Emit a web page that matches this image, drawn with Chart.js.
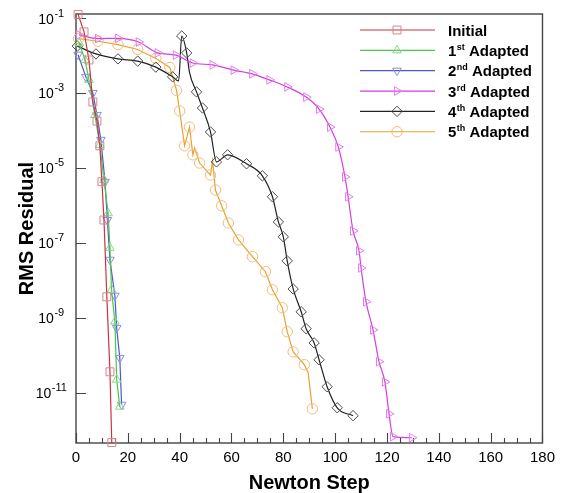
<!DOCTYPE html>
<html><head><meta charset="utf-8">
<script src="https://cdn.jsdelivr.net/npm/chart.js@4.4.1/dist/chart.umd.min.js"></script>
<style>html,body{margin:0;padding:0;background:#fff;}</style>
</head><body>
<canvas id="c" width="561" height="493"></canvas>
<script>
// ---------------- data ----------------
const seriesLabels = ['Initial', '1st Adapted', '2nd Adapted', '3rd Adapted', '4th Adapted', '5th Adapted'];

const initialSteps = [0.8, 3.1, 5, 6.5, 8.1, 9.2, 10, 10.8, 11.9, 13.1, 13.8];
const initialRMS   = [0.125, 0.0427, 0.00759, 5.75e-4, 1.78e-4, 3.89e-5, 4.27e-6, 4.07e-7, 3.63e-9, 3.63e-11, 4.68e-13];

const adapt1Steps = [1.2, 3.5, 5, 7.3, 9.2, 10.8, 12.4, 13.1, 13.7, 15, 15.7, 16.9];
const adapt1RMS   = [0.0214, 0.00759, 0.00224, 2.57e-4, 4.07e-5, 4.79e-6, 6.17e-7, 7.41e-8, 5.62e-9, 7.94e-10, 2.24e-11, 4.27e-12];

const adapt2Steps = [0.8, 3.8, 6.5, 8.1, 9.6, 11.2, 12.1, 13.1, 15, 15.7, 16.9, 17.6];
const adapt2RMS   = [0.0105, 0.00269, 0.001, 2.57e-4, 5.62e-5, 4.27e-6, 4.07e-7, 3.55e-8, 3.89e-9, 5.37e-10, 8.51e-11, 4.79e-12];

const adapt3Steps = [1.2, 8.5, 16.2, 24.2, 31.5, 38.5, 45, 52.7, 60.8, 68, 74.6, 81.5, 88.8, 93.8, 98, 101.2, 103.8, 105, 106.9, 109.2, 110, 111.9, 114.6, 116.9, 119.2, 120.8, 122.3, 129.6];
const adapt3RMS   = [0.0355, 0.0282, 0.0288, 0.0229, 0.0117, 0.0102, 0.00631, 0.00562, 0.00407, 0.00324, 0.00224, 0.00145, 7.76e-4, 3.72e-4, 1.23e-4, 3.63e-5, 5.75e-6, 1.70e-6, 2.09e-7, 6.17e-8, 2.14e-8, 2.69e-9, 4.79e-10, 6.76e-11, 1.95e-11, 2.75e-12, 6.76e-13, 6.31e-13];

const adapt4Steps = [0.5, 7.7, 16.2, 23.8, 30.8, 37.3, 39.6, 40.8, 42.7, 43.8, 46.5, 48.8, 51.9, 54.2, 58.5, 65.8, 71.9, 75.8, 78.1, 80, 81.5, 83.8, 86.9, 88.8, 91.9, 93.8, 96.9, 100.8, 106.9];
const adapt4RMS   = [0.0178, 0.011, 0.00813, 0.00708, 0.0049, 0.00269, 0.00209, 0.0331, 0.0117, 0.00355, 0.00107, 3.98e-4, 9.12e-5, 1.45e-5, 2.24e-5, 1.29e-5, 6.17e-6, 1.70e-6, 3.63e-7, 1.45e-7, 3.31e-8, 5.89e-9, 1.45e-9, 5.13e-10, 2.14e-10, 7.59e-11, 1.45e-11, 3.98e-12, 2.45e-12];
const adapt4Marked = [1,1,1,1,1,1,0,1,1,0,1,1,1,1,1,1,1,1,1,1,1,1,1,1,1,1,1,1,1];

const adapt5Steps = [1, 8.5, 16.2, 23.8, 30.8, 36.2, 38.8, 40, 41.9, 43.8, 45.1, 45.8, 47.7, 51.9, 52.7, 53.8, 56.2, 58.8, 62.7, 68.1, 73.1, 75.8, 79.6, 81.5, 83.8, 88.1, 89.6, 91.2];
const adapt5RMS   = [0.0282, 0.024, 0.0195, 0.0145, 0.00832, 0.00479, 0.00117, 3.31e-4, 3.89e-5, 1.23e-4, 2.24e-5, 3.39e-5, 1.35e-5, 6.46e-6, 1.55e-5, 2.57e-6, 9.77e-7, 3.39e-7, 1.20e-7, 4.27e-8, 1.70e-8, 5.62e-9, 1.86e-9, 4.27e-10, 1.23e-10, 5.62e-11, 3.39e-11, 3.72e-12];
const adapt5Marked = [1,1,1,1,1,1,1,1,1,1,1,0,1,1,0,1,1,1,1,1,1,1,1,1,1,1,0,1];

const xTickValues = [0, 20, 40, 60, 80, 100, 120, 140, 160, 180];
const yTickExponents = [-1, -3, -5, -7, -9, -11];

// ---------------- chart ----------------
const FONT = '"Liberation Sans", Arial, Helvetica, sans-serif';
const pts = (xs, ys) => xs.map((x, i) => ({x: x, y: ys[i]}));
const radii = (flags, r) => flags.map(f => f ? r : 0);

function ds(label, xs, ys, line, mark, style, rot, r, flags, interp) {
  return {
    label: label, data: pts(xs, ys),
    borderColor: line, borderWidth: 1.2, backgroundColor: 'rgba(0,0,0,0)',
    pointStyle: style, pointRotation: rot,
    pointRadius: flags ? radii(flags, r) : r, pointHoverRadius: r,
    pointBorderColor: mark, pointBackgroundColor: 'rgba(0,0,0,0)', pointBorderWidth: 1,
    cubicInterpolationMode: interp || 'default', tension: 0, clip: false
  };
}

const datasets = [
  ds(seriesLabels[0], initialSteps, initialRMS, '#cc3340', '#d9838a', 'rect', 0, 5.6),
  ds(seriesLabels[1], adapt1Steps, adapt1RMS, '#4cc64c', '#84da84', 'triangle', 0, 5),
  ds(seriesLabels[2], adapt2Steps, adapt2RMS, '#4f55d0', '#8a8ee0', 'triangle', 180, 5),
  ds(seriesLabels[3], adapt3Steps, adapt3RMS, '#d23ee0', '#e27cec', 'triangle', 90, 5, null, 'monotone'),
  ds(seriesLabels[4], adapt4Steps, adapt4RMS, '#222222', '#4a4a4a', 'rectRot', 0, 5.2, adapt4Marked, 'monotone'),
  ds(seriesLabels[5], adapt5Steps, adapt5RMS, '#e9a232', '#f0bd78', 'circle', 0, 5.2, adapt5Marked)
];

const framePlugin = {
  id: 'frame',
  beforeDatasetsDraw(chart) {
    const ctx = chart.ctx, a = chart.chartArea, xs = chart.scales.x, ys = chart.scales.y;
    ctx.save();
    ctx.strokeStyle = '#444';
    ctx.lineWidth = 1.4;
    ctx.strokeRect(a.left, a.top, a.right - a.left, a.bottom - a.top);
    ctx.lineWidth = 1.1;
    ctx.beginPath();
    for (let v = 0; v <= 180; v += 5) {
      const px = Math.round(xs.getPixelForValue(v)) + 0.5;
      const len = (v % 20 === 0) ? 10 : 5;
      ctx.moveTo(px, a.bottom); ctx.lineTo(px, a.bottom - len);
    }
    yTickExponents.forEach(e => {
      const py = Math.round(ys.getPixelForValue(Math.pow(10, e))) + 0.5;
      ctx.moveTo(a.left, py); ctx.lineTo(a.left + 10, py);
    });
    ctx.stroke();
    ctx.restore();
  },
  afterDraw(chart) {
    const ctx = chart.ctx, ys = chart.scales.y;
    ctx.save();
    ctx.fillStyle = '#000';
    ctx.textBaseline = 'alphabetic';
    ctx.textAlign = 'left';
    // y tick labels 10^e
    yTickExponents.forEach(e => {
      const py = ys.getPixelForValue(Math.pow(10, e));
      const sup = String(e);
      ctx.font = '14px ' + FONT; const w1 = ctx.measureText('10').width;
      ctx.font = '11px ' + FONT; const w2 = ctx.measureText(sup).width;
      const x0 = 51 - (w1 + w2) / 2;
      ctx.font = '14px ' + FONT; ctx.fillText('10', x0, py + 5.5);
      ctx.font = '11px ' + FONT; ctx.fillText(sup, x0 + w1 + 0.5, py - 1.5);
    });
    // legend
    const rowY0 = 30, rowStep = 20.35, lx1 = 360, lx2 = 435, mx = 397, tx = 448;
    chart.data.datasets.forEach((d, i) => {
      const y = rowY0 + i * rowStep;
      ctx.strokeStyle = d.borderColor; ctx.lineWidth = 1.2;
      ctx.beginPath(); ctx.moveTo(lx1, y); ctx.lineTo(lx2, y); ctx.stroke();
      ctx.strokeStyle = d.pointBorderColor; ctx.fillStyle = 'rgba(0,0,0,0)'; ctx.lineWidth = 1;
      const r = Array.isArray(d.pointRadius) ? Math.max.apply(null, d.pointRadius) : d.pointRadius;
      Chart.helpers.drawPoint(ctx, {pointStyle: d.pointStyle, rotation: d.pointRotation, radius: r, borderWidth: 1}, mx, y);
      ctx.fillStyle = '#000';
      const m = /^(\d)(st|nd|rd|th) (.*)$/.exec(d.label);
      if (m) {
        ctx.font = 'bold 15px ' + FONT; ctx.fillText(m[1], tx, y + 5.5);
        let x = tx + ctx.measureText(m[1]).width + 0.5;
        ctx.font = 'bold 9px ' + FONT; ctx.fillText(m[2], x, y - 0.5);
        x += ctx.measureText(m[2]).width;
        ctx.font = 'bold 15px ' + FONT; ctx.fillText(' ' + m[3], x, y + 5.5);
      } else {
        ctx.font = 'bold 15px ' + FONT; ctx.fillText(d.label, tx, y + 5.5);
      }
    });
    ctx.restore();
  }
};

new Chart(document.getElementById('c'), {
  type: 'line',
  data: {datasets: datasets},
  options: {
    responsive: false, animation: false, devicePixelRatio: 1,
    layout: {padding: {left: 0, top: 14, right: 17, bottom: 0}},
    plugins: {legend: {display: false}, tooltip: {enabled: false}},
    scales: {
      x: {
        type: 'linear', min: 0, max: 180,
        afterBuildTicks: s => { s.ticks = xTickValues.map(v => ({value: v})); },
        afterFit: s => { s.height = 50; },
        grid: {display: false, drawTicks: false},
        border: {display: false},
        ticks: {color: '#000', font: {family: FONT, size: 15}, padding: 6, maxRotation: 0, autoSkip: false},
        title: {display: true, text: 'Newton Step', color: '#000', font: {family: FONT, size: 20, weight: 'bold', lineHeight: 1}, padding: {top: 0, bottom: 0}}
      },
      y: {
        type: 'logarithmic', min: 4.57e-13, max: 0.128,
        afterBuildTicks: s => { s.ticks = yTickExponents.map(e => ({value: Math.pow(10, e)})); },
        afterFit: s => { s.width = 76; },
        grid: {display: false, drawTicks: false},
        border: {display: false},
        ticks: {display: false},
        title: {display: true, text: 'RMS Residual', color: '#000', font: {family: FONT, size: 20, weight: 'bold', lineHeight: 1}, padding: {top: 17, bottom: 0}}
      }
    }
  },
  plugins: [framePlugin]
});
</script>
</body></html>
